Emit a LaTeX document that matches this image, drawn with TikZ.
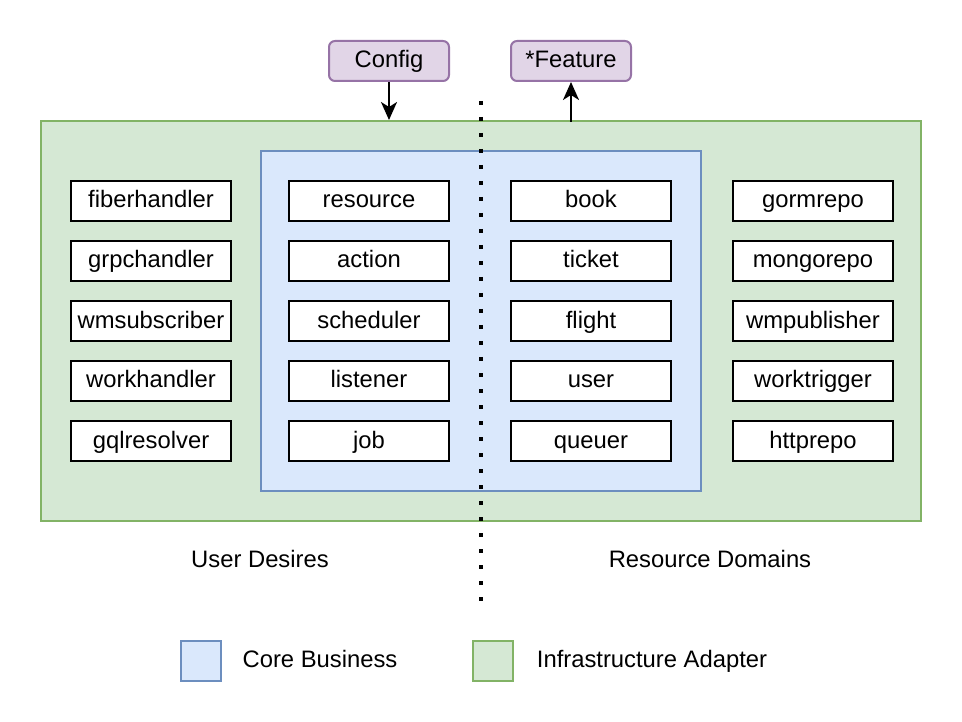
\documentclass[tikz,border=0pt]{standalone}
\usepackage{fontspec}
\setmainfont{Liberation Sans}
\usetikzlibrary{arrows.meta}
\definecolor{gfill}{HTML}{D5E8D4}
\definecolor{gline}{HTML}{82B366}
\definecolor{bfill}{HTML}{DAE8FC}
\definecolor{bline}{HTML}{6C8EBF}
\definecolor{pfill}{HTML}{E1D5E7}
\definecolor{pline}{HTML}{9673A6}
\begin{document}
\begin{tikzpicture}[x=1pt,y=-1pt,
  txt/.style={font=\fontsize{23.8}{28}\selectfont,text height=19pt,text depth=5pt},
  item/.style={txt,draw=black,line width=2pt,fill=white,minimum width=160pt,minimum height=40pt,inner sep=0pt},
  ctl/.style={txt,draw=pline,line width=2pt,fill=pfill,rounded corners=6pt,minimum width=120pt,minimum height=40pt,inner sep=0pt},
  lbl/.style={txt,inner sep=0pt},
  arr/.style={line width=2pt,-{Stealth[length=18pt,width=16pt,inset=5pt]}}]
\useasboundingbox (0,0) rectangle (962,722);
\node[draw=gline,line width=2pt,fill=gfill,minimum width=880pt,minimum height=400pt,inner sep=0pt] (infra) at (481,321) {};
\node[draw=bline,line width=2pt,fill=bfill,minimum width=440pt,minimum height=340pt,inner sep=0pt] (core) at (481,321) {};
\foreach \n/\t [count=\i from 0] in {a1/fiberhandler,a2/grpchandler,a3/wmsubscriber,a4/workhandler,a5/gqlresolver}
  \node[item] (\n) at (151,201+60*\i) {\t};
\foreach \n/\t [count=\i from 0] in {b1/resource,b2/action,b3/scheduler,b4/listener,b5/job}
  \node[item] (\n) at (369,201+60*\i) {\t};
\foreach \n/\t [count=\i from 0] in {c1/book,c2/ticket,c3/flight,c4/user,c5/queuer}
  \node[item] (\n) at (591,201+60*\i) {\t};
\foreach \n/\t [count=\i from 0] in {d1/gormrepo,d2/mongorepo,d3/wmpublisher,d4/worktrigger,d5/httprepo}
  \node[item] (\n) at (813,201+60*\i) {\t};
\node[ctl] (config) at (389,61) {Config};
\node[ctl] (feature) at (571,61) {*Feature};
\draw[arr] (config.south) -- (config.south |- infra.north);
\draw[arr] ([yshift=-2pt]feature.south |- infra.north) -- (feature.south);
\coordinate (dtop) at (481,101);
\coordinate (dbot) at (481,601);
\draw[line width=4pt,dash pattern=on 4pt off 12pt] (dtop) -- (dbot);
\node[lbl] (ud) at (260,560) {User Desires};
\node[lbl] (rd) at (710,560) {Resource Domains};
\node[draw=bline,line width=2pt,fill=bfill,minimum size=40pt,inner sep=0pt] (lb) at (201,661) {};
\node[lbl] (lbt) at (320,660) {Core Business};
\node[draw=gline,line width=2pt,fill=gfill,minimum size=40pt,inner sep=0pt] (lg) at (493,661) {};
\node[lbl] (lgt) at (652,660) {Infrastructure Adapter};
\end{tikzpicture}
\end{document}
